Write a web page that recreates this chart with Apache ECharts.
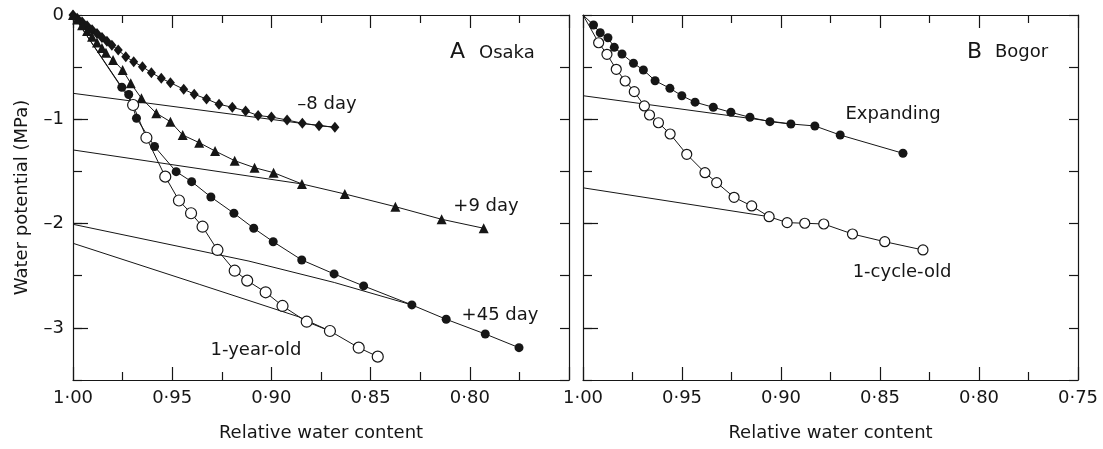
<!DOCTYPE html>
<html>
<head>
<meta charset="utf-8">
<script src="https://cdn.jsdelivr.net/npm/echarts@6/dist/echarts.min.js"></script>
<style>
html,body{margin:0;padding:0;background:#fff;}
#chart{width:1103px;height:449px;}
</style>
</head>
<body>
<div id="chart"></div>
<script>
// [relative water content, water potential (MPa)]
// A Osaka
var minus8Day=[[1.0,0],[0.9979,-0.030],[0.9954,-0.067],[0.9929,-0.104],[0.9904,-0.141],[0.9879,-0.178],[0.9854,-0.215],[0.9829,-0.252],[0.9804,-0.289],
	[0.9772,-0.336],[0.9734,-0.400],[0.9694,-0.448],[0.965,-0.496],[0.9605,-0.553],[0.9555,-0.607],[0.9509,-0.649],[0.9442,-0.712],[0.9389,-0.760],
	[0.9327,-0.805],[0.9264,-0.856],[0.9197,-0.885],[0.913,-0.920],[0.9067,-0.964],[0.900,-0.978],[0.8921,-1.007],[0.8844,-1.038],[0.876,-1.061],[0.868,-1.077]];
var plus9Day=[[1.0,0],[0.9979,-0.044],[0.9954,-0.099],[0.9929,-0.153],[0.9904,-0.208],[0.9879,-0.263],[0.9854,-0.317],
	[0.9834,-0.361],[0.9798,-0.431],[0.975,-0.527],[0.9709,-0.655],[0.9655,-0.799],[0.958,-0.942],[0.9509,-1.023],[0.9447,-1.151],[0.9364,-1.224],
	[0.9284,-1.304],[0.9185,-1.397],[0.9085,-1.464],[0.8989,-1.512],[0.8846,-1.620],[0.863,-1.716],[0.8375,-1.838],[0.8142,-1.959],[0.793,-2.045]];
var plus45Day=[[1.0,0],[0.9754,-0.693],[0.9719,-0.762],[0.968,-0.990],[0.9589,-1.261],[0.948,-1.502],[0.9402,-1.598],[0.9305,-1.745],[0.9189,-1.901],
	[0.9089,-2.045],[0.8991,-2.174],[0.8847,-2.349],[0.8684,-2.483],[0.8535,-2.598],[0.8292,-2.780],[0.8119,-2.918],[0.7922,-3.059],[0.7752,-3.190]];
var oneYearOld=[[1.0,0],[0.9697,-0.863],[0.963,-1.177],[0.9535,-1.550],[0.9466,-1.779],[0.9405,-1.901],[0.9347,-2.030],[0.9272,-2.253],[0.9185,-2.452],
	[0.9122,-2.547],[0.9029,-2.659],[0.8944,-2.790],[0.8822,-2.941],[0.8705,-3.030],[0.856,-3.190],[0.8464,-3.276]];
// thin fitted lines, panel A
var fitMinus8=[[1.0,-0.751],[0.8844,-1.040],[0.868,-1.077]];
var fitPlus9=[[1.0,-1.294],[0.8846,-1.620]];
var fitPlus45=[[1.0,-2.007],[0.9113,-2.360],[0.8683,-2.565],[0.8292,-2.780]];
var fitOneYear=[[1.0,-2.189],[0.9364,-2.582],[0.8864,-2.893],[0.8705,-3.030]];

// B Bogor
var expanding=[[1.0,0],[0.9947,-0.096],[0.9913,-0.170],[0.9874,-0.218],[0.9842,-0.310],[0.9803,-0.374],[0.9745,-0.463],[0.9695,-0.527],[0.9636,-0.630],
	[0.9561,-0.703],[0.9501,-0.774],[0.9434,-0.836],[0.9342,-0.885],[0.9253,-0.933],[0.9157,-0.981],[0.9056,-1.023],[0.895,-1.045],[0.8829,-1.064],
	[0.8701,-1.151],[0.8384,-1.326]];
var oneCycleOld=[[1.0,0],[0.9921,-0.266],[0.9879,-0.377],[0.9832,-0.521],[0.9787,-0.633],[0.9741,-0.735],[0.969,-0.872],[0.9664,-0.959],[0.9619,-1.033],
	[0.956,-1.141],[0.9476,-1.336],[0.9384,-1.512],[0.9325,-1.607],[0.9237,-1.748],[0.9148,-1.831],[0.906,-1.934],[0.8969,-1.991],[0.888,-1.997],
	[0.8784,-2.004],[0.8639,-2.100],[0.8476,-2.174],[0.8283,-2.253]];
var fitExpanding=[[1.0,-0.774],[0.895,-1.045]];
var fitOneCycle=[[1.0,-1.657],[0.906,-1.934]];

// tick labels
var xLabelsA=[1.00,0.95,0.90,0.85,0.80];
var xLabelsB=[1.00,0.95,0.90,0.85,0.80,0.75];
var yLabels=[0,-1,-2,-3];
var yLongTicks=[-1,-2,-3];

var ink='#161616';
var font='DejaVu Sans';
var axisLineStyle={color:ink,width:1.2};

var xAxes=function(g,labels){
	var bottom={
		gridIndex:g,type:'value',min:0.75,max:1,inverse:true,interval:0.05,position:'bottom',
		axisLine:{onZero:false,lineStyle:axisLineStyle},
		axisTick:{inside:true,length:13,lineStyle:axisLineStyle},
		minorTick:{show:true,splitNumber:2,length:8,lineStyle:axisLineStyle},
		splitLine:{show:false},
		axisLabel:{customValues:labels,margin:9,color:ink,fontSize:18,fontFamily:font,
			formatter:function(v){return v.toFixed(2).replace('.','\u00b7');}},
		name:'Relative water content',nameLocation:'middle',nameGap:44,
		nameTextStyle:{color:ink,fontSize:18,fontFamily:font}
	};
	var top={
		gridIndex:g,type:'value',min:0.75,max:1,inverse:true,interval:0.05,position:'top',
		axisLine:{onZero:false,lineStyle:axisLineStyle},
		axisTick:{inside:true,length:13,lineStyle:axisLineStyle},
		minorTick:{show:true,splitNumber:2,length:8,lineStyle:axisLineStyle},
		splitLine:{show:false},axisLabel:{show:false}
	};
	return [bottom,top];
}
var yAxes=function(g,withLabels){
	var left={
		gridIndex:g,type:'value',min:-3.5,max:0,interval:0.5,position:'left',
		axisLine:{onZero:false,lineStyle:axisLineStyle},
		axisTick:{inside:true,length:9,lineStyle:axisLineStyle},
		splitLine:{show:false},
		axisLabel:{show:withLabels,customValues:yLabels,margin:9,color:ink,fontSize:18,fontFamily:font,
			formatter:function(v){return v<0?'\u2013'+(-v):String(v);}}
	};
	if(withLabels){
		left.name='Water potential (MPa)';
		left.nameLocation='middle';
		left.nameGap=42;
		left.nameTextStyle={color:ink,fontSize:18,fontFamily:font};
	}
	var leftLong={
		gridIndex:g,type:'value',min:-3.5,max:0,position:'left',
		axisLine:{show:false,onZero:false},
		axisTick:{inside:true,length:15,customValues:yLongTicks,lineStyle:axisLineStyle},
		splitLine:{show:false},axisLabel:{show:false}
	};
	var right={
		gridIndex:g,type:'value',min:-3.5,max:0,interval:0.5,position:'right',
		axisLine:{onZero:false,lineStyle:axisLineStyle},
		axisTick:{inside:true,length:9,lineStyle:axisLineStyle},
		splitLine:{show:false},axisLabel:{show:false}
	};
	return [left,leftLong,right];
}

// first point (origin) of the circle series has no marker
var fromOrigin=function(data){
	return data.map(function(d,i){return i===0?{value:d,symbol:'none'}:d;});
}
var marked=function(name,data,xi,yi,symbol,size,open){
	return {
		name:name,type:'line',xAxisIndex:xi,yAxisIndex:yi,data:data,
		symbol:symbol,symbolSize:size,z:3,
		lineStyle:{color:ink,width:1},
		itemStyle:{color:open?'#fff':ink,borderColor:ink,borderWidth:open?1.2:0}
	};
}
var fitted=function(data,xi,yi){
	return {type:'line',xAxisIndex:xi,yAxisIndex:yi,data:data,symbol:'none',z:2,
		lineStyle:{color:ink,width:1}};
}

var txt=function(x,y,s,size,align){
	return {type:'text',x:x,y:y,style:{text:s,fill:ink,font:size+'px "'+font+'"',align:align||'center',verticalAlign:'middle'}};
}

var dom=document.getElementById('chart');
var myChart=echarts.init(dom,null,{renderer:'canvas'});
var option={
	animation:false,
	backgroundColor:'#fff',
	grid:[
		{left:73,top:15,width:496,height:365},
		{left:583,top:15,width:495,height:365}
	],
	xAxis:xAxes(0,xLabelsA).concat(xAxes(1,xLabelsB)),
	yAxis:yAxes(0,true).concat(yAxes(1,false)),
	series:[
		fitted(fitMinus8,0,0),
		fitted(fitPlus9,0,0),
		fitted(fitPlus45,0,0),
		fitted(fitOneYear,0,0),
		marked('-8 day',minus8Day,0,0,'diamond',[9,11],false),
		marked('+9 day',plus9Day,0,0,'triangle',10,false),
		marked('+45 day',fromOrigin(plus45Day),0,0,'circle',9,false),
		marked('1-year-old',fromOrigin(oneYearOld),0,0,'circle',11,true),
		fitted(fitExpanding,2,3),
		fitted(fitOneCycle,2,3),
		marked('Expanding',fromOrigin(expanding),2,3,'circle',9,false),
		marked('1-cycle-old',fromOrigin(oneCycleOld),2,3,'circle',10,true)
	],
	graphic:[
		txt(450,52,'A',22,'left'),
		txt(479,53,'Osaka',18,'left'),
		txt(967,52,'B',22,'left'),
		txt(995,52,'Bogor',18,'left'),
		txt(327,104,'\u20138 day',18),
		txt(486,206,'+9 day',18),
		txt(500,315,'+45 day',18),
		txt(256,350,'1-year-old',18),
		txt(893,114,'Expanding',18),
		txt(902,272,'1-cycle-old',18)
	]
};
if(option && typeof option === "object") {
	myChart.setOption(option, true);
}
</script>
</body>
</html>
